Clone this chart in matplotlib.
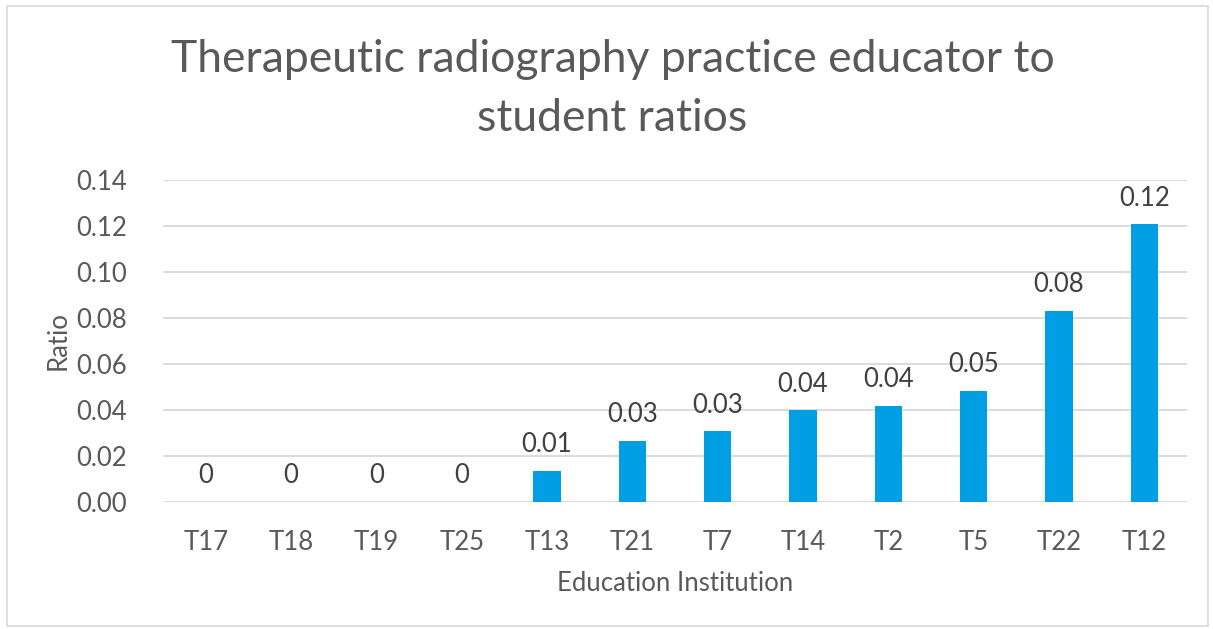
import matplotlib
matplotlib.use("Agg")
import matplotlib.pyplot as plt
from matplotlib.patches import Rectangle

# Data
institutions = ["T17", "T18", "T19", "T25", "T13", "T21", "T7", "T14", "T2", "T5", "T22", "T12"]
ratios = [0, 0, 0, 0, 0.0135, 0.0265, 0.0307, 0.0398, 0.0417, 0.0482, 0.0832, 0.1207]
y_ticks = [0.00, 0.02, 0.04, 0.06, 0.08, 0.10, 0.12, 0.14]

TEXT = "#595959"
GRID = "#D9D9D9"
BAR = "#009FE3"

plt.rcParams["font.family"] = ["Lato", "DejaVu Sans"]

fig = plt.figure(figsize=(12.13, 6.29), dpi=100)
ax = fig.add_axes([0.1344, 0.2019, 0.8442, 0.5119])

x = range(len(institutions))
ax.bar(x, ratios, width=0.32, color=BAR, zorder=3)

for i, v in zip(x, ratios):
    label = "0" if v == 0 else format(v, ".2f")
    ax.annotate(label, (i, v), xytext=(0, 10), textcoords="offset points",
                ha="center", va="bottom", fontsize=18.5, color="#404040")

ax.set_xlim(-0.5, len(institutions) - 0.5)
ax.set_ylim(0, 0.14)
ax.set_yticks(y_ticks)
ax.set_yticklabels([format(t, ".2f") for t in y_ticks])
ax.set_xticks(list(x))
ax.set_xticklabels(institutions)
ax.tick_params(axis="both", length=0, labelsize=18.5, labelcolor=TEXT)
ax.tick_params(axis="y", pad=26)
ax.tick_params(axis="x", pad=20)
ax.grid(True, axis="y", color=GRID, linewidth=1.3, zorder=0)
for s in ax.spines.values():
    s.set_visible(False)

ax.set_ylabel("Ratio", fontsize=18.5, color=TEXT, labelpad=4)
ax.set_xlabel("Education Institution", fontsize=18.5, color=TEXT, labelpad=12)

fig.text(0.505, 0.859, "Therapeutic radiography practice educator to\nstudent ratios",
         ha="center", va="center", fontsize=32, color=TEXT, linespacing=1.55)

# chart frame
fig.patches.append(Rectangle((0.006, 0.004), 0.99, 0.987, transform=fig.transFigure,
                             fill=False, edgecolor=GRID, linewidth=1.2))

fig.savefig("out.png", dpi=100, facecolor="white")
